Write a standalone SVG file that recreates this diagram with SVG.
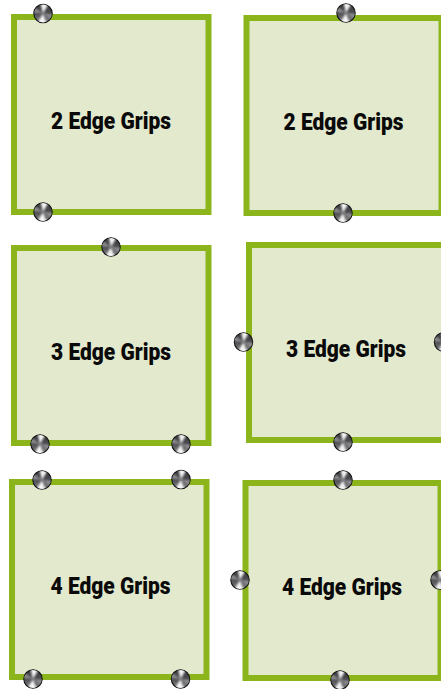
<svg xmlns="http://www.w3.org/2000/svg" width="441" height="689" viewBox="0 0 441 689">
<style>
.box{fill:#e3e9cc;stroke:#8cb51c;stroke-width:6}
.lbl{font-family:Roboto,"Liberation Sans",sans-serif;font-weight:900;font-size:24.500px;fill:#0a0a0a;text-anchor:middle}
</style>
<defs>
<clipPath id="gc"><circle r="8.900"/></clipPath>
<filter id="soft" x="-50%" y="-50%" width="200%" height="200%"><feGaussianBlur stdDeviation="1.300"/></filter>
<linearGradient id="base" x1="0" y1="0" x2="0" y2="1"><stop offset="0" stop-color="#3c3c40"/><stop offset=".5" stop-color="#4a4a4e"/><stop offset=".85" stop-color="#77777a"/><stop offset="1" stop-color="#dcdcdc"/></linearGradient>
<g id="grip">
<circle r="9.200" fill="url(#base)" stroke="#141414" stroke-width="1.100"/>
<g clip-path="url(#gc)">
<g filter="url(#soft)">
<polygon points="0,0 -3,-12 7,-12" fill="#f5f5f5"/>
<polygon points="0,0 -7,12 4,12" fill="#f5f5f5"/>
<polygon points="0,0 -12,-9 -12,-1" fill="#8c8c90"/>
<polygon points="0,0 12,1 12,9" fill="#8c8c90"/>
</g>
</g>
<circle r="1.500" fill="#808084" opacity=".8"/>
</g>
</defs>
<g id="connectors"/>
<g id="node1"><rect class="box" x="14" y="17" width="194.500" height="195"/><text class="lbl" x="111" y="129" textLength="120" lengthAdjust="spacingAndGlyphs">2 Edge Grips</text><use href="#grip" x="43" y="13.500"/><use href="#grip" x="43" y="212"/></g>
<g id="node2"><rect class="box" x="246.500" y="18" width="195" height="195"/><text class="lbl" x="343.500" y="130" textLength="120" lengthAdjust="spacingAndGlyphs">2 Edge Grips</text><use href="#grip" x="346" y="13"/><use href="#grip" x="343" y="213"/></g>
<g id="node3"><rect class="box" x="14" y="248" width="194.500" height="195"/><text class="lbl" x="111" y="360" textLength="120" lengthAdjust="spacingAndGlyphs">3 Edge Grips</text><use href="#grip" x="111" y="247"/><use href="#grip" x="40" y="444"/><use href="#grip" x="181" y="444"/></g>
<g id="node4"><rect class="box" x="249" y="245" width="195" height="195"/><text class="lbl" x="346" y="357" textLength="120" lengthAdjust="spacingAndGlyphs">3 Edge Grips</text><use href="#grip" x="243.500" y="342"/><use href="#grip" x="443.500" y="342"/><use href="#grip" x="343" y="442"/></g>
<g id="node5"><rect class="box" x="12" y="482" width="194.500" height="195"/><text class="lbl" x="110.500" y="594" textLength="120" lengthAdjust="spacingAndGlyphs">4 Edge Grips</text><use href="#grip" x="42" y="480"/><use href="#grip" x="181" y="479.500"/><use href="#grip" x="33" y="679"/><use href="#grip" x="180.500" y="679"/></g>
<g id="node6"><rect class="box" x="245.500" y="483" width="195" height="195"/><text class="lbl" x="342" y="595" textLength="120" lengthAdjust="spacingAndGlyphs">4 Edge Grips</text><use href="#grip" x="343" y="480"/><use href="#grip" x="240" y="580"/><use href="#grip" x="440" y="580"/><use href="#grip" x="340" y="680"/></g>
</svg>
